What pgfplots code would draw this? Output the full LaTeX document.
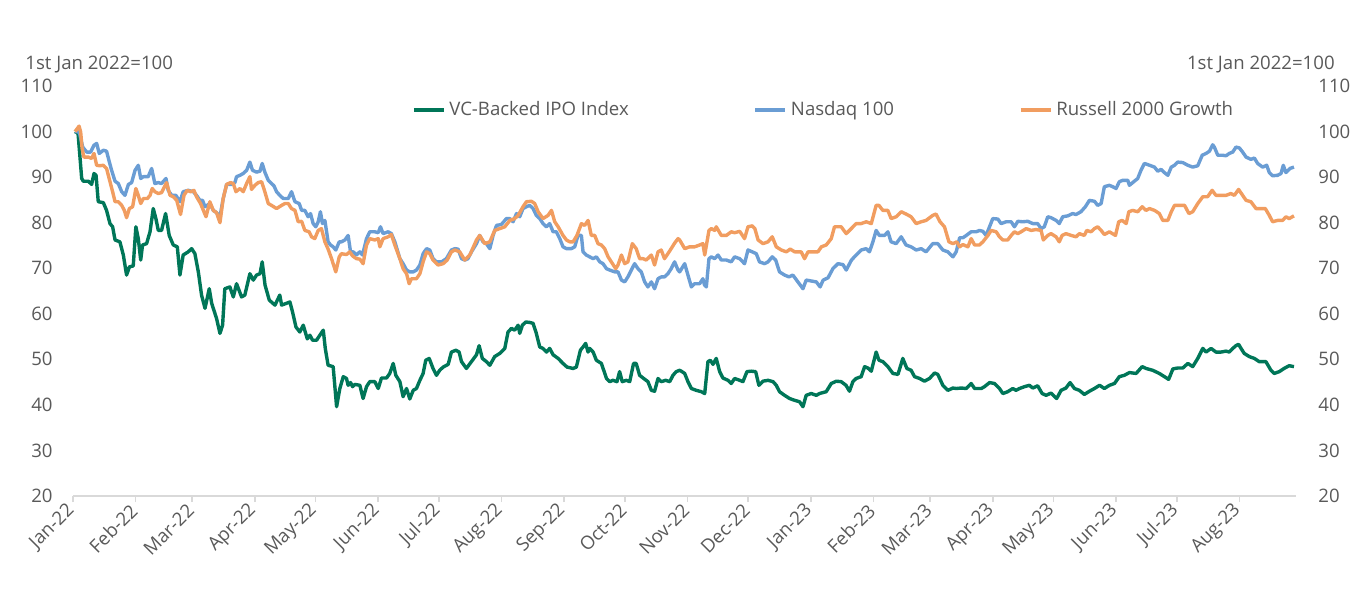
\documentclass[border=0pt]{standalone}
\usepackage{fontspec}
\setmainfont{Open Sans}
\usepackage{pgfplots}
\pgfplotsset{compat=1.18}
\definecolor{vcgreen}{RGB}{0,118,88}
\definecolor{nasblue}{RGB}{106,157,212}
\definecolor{rusorange}{RGB}{241,157,96}
\definecolor{txtgray}{RGB}{89,89,89}
\definecolor{axgray}{RGB}{217,217,217}
\newcommand{\chartfont}{\fontsize{9.3}{10}\selectfont}
\pgfplotsset{
  base/.style={
    at={(0,0)}, anchor=south west,
    width=611.5pt, height=205pt, scale only axis,
    xmin=0, xmax=605, ymin=20, ymax=110,
    ytick={20,30,...,110},
    tick label style={font=\chartfont, text=txtgray},
    /pgf/number format/assume math mode=true,
    y axis line style={draw=none},
    ytick style={draw=none},
  }
}
\begin{document}
\begin{tikzpicture}[x=1pt,y=1pt]
\path[use as bounding box] (-36.5,-50) rectangle (643.5,248);
% right-hand tick labels
\begin{axis}[base,
  axis x line=none, axis y line*=right,
  yticklabel={\makebox[0pt][l]{\pgfmathprintnumber{\tick}}},
  yticklabel style={inner sep=0pt, xshift=10.5pt},
]
\end{axis}
\begin{axis}[base,
  axis x line*=bottom, axis y line*=left,
  x axis line style={axgray, line width=0.8pt},
  xtick style={axgray, line width=0.8pt},
  tick align=outside, major tick length=3pt,
  xtick={0,31,59,90,120,151,181,212,243,273,304,334,365,396,424,455,485,516,546,577},
  xticklabels={Jan-22,Feb-22,Mar-22,Apr-22,May-22,Jun-22,Jul-22,Aug-22,Sep-22,Oct-22,Nov-22,Dec-22,Jan-23,Feb-23,Mar-23,Apr-23,May-23,Jun-23,Jul-23,Aug-23},
  xticklabel style={yshift=-2pt, rotate=45, anchor=east, inner sep=1pt},
  yticklabel style={anchor=east, inner sep=0pt, xshift=-7pt},
  legend columns=3,
  legend style={at={(0.277,0.9415)}, anchor=west, draw=none, fill=none,
    inner sep=0pt, font=\chartfont, text=txtgray,
    /tikz/every even column/.append style={column sep=60.5pt}},
  legend image code/.code={\draw[#1, line width=1.6pt] (0pt,0pt) -- (15pt,0pt);},
  every axis plot/.append style={line width=1.7pt, line join=round},
]
\addplot[vcgreen] coordinates {
(1,100) (2.5,99.6) (4.3,89.7) (5.1,89.1) (7.6,89.1) (9.2,88.4) (10.4,90.8) (11.4,90.4) (12.5,84.6) (15,84.4) (16.6,82.7) (18.3,79.8) (19.6,79.1) (20.8,76.2) (23.2,75.8) (24.9,72.9) (26.5,68.5) (27.9,70.3) (29.8,70.5) (31.1,79.1) (32.3,76.5) (33.5,71.8) (34.4,75.1) (36.4,75.4) (38.1,78) (39.7,83.1) (41,80.9) (42.2,78.3) (43.8,78.3) (45.8,82) (47.6,77.2) (49.6,75.1) (51.6,74.7) (52.9,68.5) (54.5,72.9) (57,73.6) (58.7,74.3) (60.3,73.2) (62,69.2) (63.6,64.1) (65.3,61.2) (67.4,65.5) (68.6,62.3) (71,59) (72.7,55.7) (74,57.5) (75.1,65.5) (77.6,65.9) (79.3,63.7) (80.9,66.6) (83.4,63.7) (85,64.1) (87.5,68.8) (89.2,67.4) (90.8,68.5) (92.5,68.8) (93.6,71.4) (95,66.3) (97.1,63) (99.9,61.9) (102.3,64.1) (103.2,61.9) (105.6,62.3) (107.3,62.6) (108.6,60.4) (110.3,57.1) (112.2,56) (113.9,57.5) (115.9,54.5) (117.2,55.3) (118.5,54.2) (120.5,54.2) (122.1,55.3) (123.8,56.4) (124.8,52.4) (126.2,48.7) (128.7,48.4) (130.4,39.6) (132,43.6) (133.7,46.2) (135.3,45.8) (136.1,44.3) (137.3,44.9) (138.3,44) (139.4,44.5) (141.9,44.3) (143.5,41.4) (145.2,44) (146.8,45.1) (149.3,45.1) (151,43.6)
(152.6,45.9) (155.1,45.9) (156.7,46.9) (158.4,49.1) (159.7,46.5) (161.7,45.1) (163.3,41.8) (165,43.6) (166.6,41.3) (168.3,43.2) (169.9,43.6) (171.6,45.4) (173.2,46.9) (174.5,49.8) (176.2,50.2) (178.1,48) (179.8,46.5) (181.4,47.6) (183.1,48.3) (185.6,48.9) (187.2,51.6) (189.4,52) (191,51.6) (192.2,49.5) (194.6,48) (197.1,49.5) (199.6,51) (200.9,53) (202.5,50.2) (204.5,49.5) (206.2,48.7) (208.6,50.6) (211.1,51.3) (213.6,52.4) (215.2,56) (216.9,56.8) (218.5,56.4) (220.2,57.5) (221,55.7) (222.3,57.5) (224,58.2) (225.9,58.1) (227.6,57.9) (229.2,55.7) (230.9,52.7) (232.5,52.4) (234.2,51.6) (235.8,52.4) (237.5,51) (240,50.2) (242.4,49.1) (244.4,48.3) (247.4,48) (249,48.3) (251,52) (252.3,52.7) (253.6,53.5) (254.8,51.6) (255.6,52.4) (257.3,51.6) (258.9,49.8) (261.4,49.1) (263.9,45.8) (265.5,45.1) (267.1,45.4) (269.1,45.1) (270.4,47.3) (271.7,45.1) (273.7,45.4) (275.4,45.1) (277.3,49.1) (278.6,49.1) (280.3,46.5) (282.3,45.8) (284.4,45.1) (286.1,43.2) (287.7,43) (289.4,45.8) (291,45.1) (293.2,45.4) (295.2,45.1) (296.8,46.5) (298.4,47.3) (300.1,47.6)
(300.9,47.4) (302.6,46.9) (304.2,45.1) (305.9,43.6) (308.3,43.2) (310.8,42.9) (312.5,42.5) (314.1,49.5) (315.3,49.8) (316.6,48.9) (318.2,50.2) (319.9,47.3) (321.5,45.9) (324,45.4) (325.6,44.7) (327.3,45.8) (329.8,45.4) (331.4,45.1) (333.4,47.3) (335.5,47.4) (337.7,47.3) (339.3,44.3) (341.3,45.2) (343.8,45.4) (346.3,45.1) (347.9,44.3) (349.5,42.9) (352,42.1) (354.5,41.4) (357,41) (359.4,40.7) (361.1,39.6) (362.7,42.1) (365.2,42.5) (367.7,42.1) (369.3,42.5) (372.6,42.9) (375.1,44.7) (377.6,45.2) (380,45.1) (382.4,44.3) (384.1,43) (385.8,45.1) (387.4,45.8) (389.9,46.2) (391.6,48.4) (393.2,48.1) (394.9,47.4) (397.3,51.6) (398.7,49.8) (400.6,49.5) (403.1,48.4) (405.6,46.9) (408.1,46.7) (410.5,50.2) (412.5,48) (414.6,47.6) (416.3,46.2) (418.8,45.8) (421.2,45.2) (423.7,45.8) (426.2,47) (427.8,46.7) (430.3,44.3) (432.8,43.2) (435.3,43.7) (436.9,43.6) (439.4,43.7) (441.9,43.6) (444.3,44.7) (446,43.6) (449.3,43.6)
(450.9,44) (453.4,44.9) (455.8,44.7) (458.3,43.6) (460,42.5) (462.4,42.9) (464.9,43.6) (466.5,43.2) (468.2,43.6) (470.7,44) (473.1,44.3) (474.8,43.7) (477.2,44.2) (479.4,42.5) (481.4,42.1) (483.8,42.6) (486.6,41.4) (488.8,43.2) (491.2,43.7) (493.2,44.9) (495.4,43.6) (497.8,43.2) (500.3,42.3) (502.8,43) (505.3,43.6) (507.8,44.3) (510.2,43.6) (512.7,44.3) (515.2,44.7) (517.6,46.2) (520.1,46.5) (522.6,47.1) (525.9,46.9) (528.9,48.4) (530.8,48) (534.1,47.6) (537.4,46.9) (539.9,46.2) (542,45.6) (544.1,47.9) (546.5,48.1) (549,48.1) (551.5,49.1) (553.9,48.4) (556.4,50.2) (558.9,52.4) (560.5,51.6) (563,52.4) (565.4,51.6) (567.9,51.6) (570.4,51.8) (572,51.6) (573.7,52.4) (575.3,53) (576.6,53.3) (577.8,52.4) (579.4,51.3) (581.9,50.6) (584.4,50.2) (586.8,49.5) (590.1,49.5) (592.6,47.6) (594.2,46.9) (596.7,47.3) (599.1,48) (601.6,48.6) (604,48.4)
};
\addlegendentry{VC-Backed IPO Index}
\addplot[nasblue] coordinates {
(1,100) (3.1,99.9) (4.8,96.6) (6.8,95.5) (8.7,95.5) (10.4,97) (11.7,97.4) (13,95.2) (15,95.9) (16.6,95.7) (18,93.3) (19.1,91.5) (20.8,89.1) (22.4,88.6) (24.1,86.8) (25.7,86) (27.4,88.4) (29,88.8) (30.7,91.5) (32.3,92.6) (33.5,89.7) (34.8,90.1) (37.2,90.1) (38.9,91.9) (40.5,88.6) (42.2,88.8) (43.8,88.6) (46,89.7) (47.1,87.1) (48.8,86) (50.9,86) (52.9,84.6) (54.5,86.8) (57,87.1) (59.5,86.8) (61.1,86) (62.8,84.9) (64.1,84.9) (65.3,83.5) (67.7,84.2) (69.4,82.7) (71,82.2) (72.7,81.3) (74.3,85.3) (76,88.4) (78.4,88.4) (80.1,88.8) (80.9,90.1) (82.6,90.4) (84.2,90.8) (85.9,91.5) (87.5,93.3) (88.8,91.5) (90.8,91.1) (92.5,91.3) (93.6,93) (94.9,91.1) (96.6,89.3) (98.2,88.6) (99.4,88.1) (100.7,86.8) (102.3,86) (104,85.3) (106.5,85.3) (108.1,86.8) (109.8,84.6) (111.9,84.2) (113.1,82.7) (114.7,82.7) (116.3,81.3) (117.5,82) (118.8,79.8) (120.1,79.1) (121.3,80.2) (122.4,82.4) (123.4,79.8) (124.6,80.5) (126.2,75.8) (127.4,75.1) (128.7,74.7) (130,74) (131.7,75.8) (132.8,75.8) (134.5,76.2) (136.1,77.2) (137.3,73.6) (138.6,73.6) (140.2,72.9) (141.9,73.6) (143.2,72.9) (145.2,76.5) (146.8,78) (149.3,78) (151,77.8)
(152.1,79.1) (153.4,77.6) (155.9,78) (157.5,77.6) (159.2,75.8) (161.7,72.1) (163.3,71) (165,69.6) (166.6,69.2) (168.3,69.2) (169.9,69.6) (171.6,70.7) (173.2,73.2) (174.9,74.3) (176.5,74) (178.1,72.1) (179.8,71.4) (182.3,71.4) (184.7,72.1) (187.2,74) (188.9,74.3) (190.5,74.2) (192.2,72.1) (193.8,71.8) (195.4,72.1) (197.1,73.6) (199.6,75.4) (201.2,77.2) (202.8,75.8) (204.5,75.4) (206.2,74.3) (207.8,77.2) (209.5,79.4) (211.9,79.6) (214.4,80.9) (216.1,80.9) (217.7,80.2) (219.4,82) (221,81.3) (222.6,83.1) (224.3,83.5) (225.9,83.8) (227.6,83.1) (229.2,81.6) (230.9,80.9) (232.5,79.8) (234.2,79.1) (235.8,79.8) (237.5,78) (239.1,78) (240.8,76.5) (242.4,74.7) (244.1,74.3) (246.5,74.3) (248.2,74.7) (249.8,77.2) (251.5,77.2) (252.3,73.6) (253.9,72.9) (255.6,72.5) (257.3,72.1) (258.9,72.5) (260.6,71.4) (262.2,71) (263.9,69.9) (265.5,69.6) (268,69.2) (269.6,69.2) (271.3,67.4) (272.9,67) (274.5,68.1) (276.2,69.6) (277.8,71) (279.5,69.9) (281.1,69.2) (282.8,67) (284.4,65.9) (286.1,67) (287.7,65.5) (289.4,67.7) (291,68.1) (292.6,68.1) (294.3,68.8) (295.9,69.9) (297.6,71.4) (299.3,69.6) (300.1,69.2)
(302.6,71) (304.2,68.5) (305.9,65.9) (307.5,66.6) (310,66.6) (311.6,67.7) (312.4,66.3) (313.3,65.9) (314.6,72.1) (315.8,72.5) (317.4,72.1) (319.1,72.9) (320.7,71.8) (323.2,71.8) (325.6,71.4) (327.3,72.5) (329.8,72.1) (332.2,71) (333.9,74) (336,73.6) (338,73.2) (339.6,71.4) (342.1,71) (343.8,71.4) (345.9,72.5) (347.6,71.8) (349.5,69.2) (352,68.5) (354.2,68.1) (356.1,68.5) (358.6,67) (361.1,65.5) (362.7,67.4) (365.2,67.2) (367.7,67) (369.6,65.9) (371.1,67.4) (373.5,67.9) (375.9,69.9) (378.4,71) (380.9,70.8) (382.5,69.6) (385.1,71.8) (387.4,72.9) (389.9,74) (392.4,74.3) (394,73.6) (395.7,75.8) (397.3,78.3) (398.9,77.2) (401.5,77.2) (403.1,78) (404.7,75.8) (407.2,75.4) (409.7,76.9) (412.1,75.1) (414.6,74.7) (417.1,74) (419.6,74.3) (422,73.6) (425.3,75.4) (427.8,75.4) (430.3,74) (432.8,73.6) (435.3,72.5) (436.9,73.6) (438.6,76.7) (440.2,76.7) (441.9,77.2) (444.3,78) (446.8,78)
(448.4,78.3) (450.1,78.1) (451.7,77.2) (453.4,79.1) (455,80.9) (457.5,80.8) (459.1,79.8) (461.6,80.2) (464.1,80.2) (465.7,79.1) (467.4,80.3) (469.8,80.2) (472.3,80.3) (474.8,79.8) (477.2,79.8) (478.9,78.7) (480.5,79.1) (482.2,81.3) (483.8,81.1) (486.3,80.5) (487.9,79.8) (489.6,81.3) (492.1,81.5) (494.5,82) (496.2,81.8) (498.6,82.4) (500.8,83.5) (502.8,84.9) (505.3,84.7) (506.9,83.8) (508.6,84.2) (510.2,87.9) (512.7,88.2) (514.3,87.9) (516,87.5) (517.6,89) (519.3,89.3) (521.8,89.3) (522.6,88.2) (524.2,88.8) (526.7,89.7) (528.3,91.5) (530,93) (532.6,92.6) (535,92.2) (536.6,91.3) (538.3,91.7) (539.9,91) (541.6,90.4) (543.3,92.2) (544.9,92.6) (546.5,93.3) (549,93.2) (551.5,92.6) (553.9,92.2) (556.4,92.5) (558.6,94.8) (560.5,95.2) (562.2,95.7) (563.8,97.1) (564.6,96.6) (566.3,94.8) (568.7,94.8) (570.4,94.7) (572,95.2) (573.7,95.5) (575.3,96.6) (577,96.4) (578.6,95.5) (580.3,94.4) (582.7,93.9) (584.4,94.2) (586,93) (588.5,92.2) (590.5,92.6) (591.8,91) (593.4,90.3) (595.9,90.4) (597.6,90.8) (598.7,92.6) (600,91) (602,91.9) (604,92.2)
};
\addlegendentry{Nasdaq 100}
\addplot[rusorange] coordinates {
(1,100) (2.2,100.7) (3,101.2) (3.8,99.9) (4.5,96.3) (5.4,94.4) (7.6,94.4) (9.2,94.1) (10.4,95.2) (11.7,92.6) (13.3,92.5) (15,92.6) (16.6,91.9) (18.3,89) (19.6,86.8) (20.8,84.6) (22.4,84.6) (24.1,83.8) (25.4,82.7) (26.5,81.1) (27.9,83.1) (29.5,83.5) (31.1,87.5) (32.3,86) (33.5,84.2) (34.8,85.3) (36.8,85.3) (38.1,86) (39.2,87.5) (40.5,86.8) (42.2,86.4) (43.8,86.6) (46.3,88.8) (48,86) (49.6,85.7) (51.3,84.9) (53.2,81.8) (54.9,86) (56.5,87.1) (58.2,86.8) (59.8,87.1) (61.1,85.7) (63.1,84.2) (65.8,81.3) (67.7,84.6) (69.4,82.7) (71,82.2) (72.7,80) (74.3,85.3) (76,88.4) (77.9,88.8) (79.3,88.6) (80.6,86.8) (82.6,87.5) (84.2,86.8) (85.9,88.6) (87.5,90.1) (88.3,87.3) (90,88.2) (91.6,88.8) (93.3,89) (94.9,86.8) (96.6,84.2) (98.2,83.8) (100.7,83.1) (103.2,83.8) (104.8,84.2) (106.5,84.2) (108.1,83.1) (109.8,82.7) (111.4,80.2) (113.1,80.3) (114.7,78.3) (116.8,78) (118,76.9) (119.6,76.5) (121.3,78.3) (122.9,78.7) (124.6,75.8) (126.2,74.2) (127.9,72.1) (130,69.2) (131.7,72.5) (132.8,73.2) (135.3,73) (136.9,73.6) (138.3,72.7) (140.2,72.1) (141.9,72) (143.5,71) (145.2,75.1) (146.8,76.5) (149.3,76.2) (151,76.5)
(151.8,74.7) (153.4,76.5) (155.9,76.9) (157.5,77.4) (159.2,75.1) (161.7,72.1) (163.3,69.9) (165,68.8) (166.3,66.6) (167.4,67.7) (169.9,67.7) (171.6,68.8) (173.2,71.4) (174.9,73.6) (176.5,73.2) (178.1,71.8) (180.6,70.7) (183.1,71) (185.1,71.8) (187.2,73.6) (188.9,74) (191.3,73.6) (193.8,71.8) (196.3,72.9) (199.6,76.2) (201.2,77.2) (203.7,75.4) (206.2,75.8) (208.6,78.3) (211.1,78.7) (213.6,79.1) (216.1,80.5) (218.5,80.9) (220.2,81.6) (222.6,83.5) (224.3,84.6) (226.8,84.7) (228.4,84.2) (230.1,82.4) (232.5,80.9) (235,81.6) (236.7,82.7) (238.3,80.2) (240,79.1) (242.4,77.2) (244.1,76.2) (245.7,75.8) (247.4,75.8) (249.3,77.2) (251.5,79.8) (253.1,79.4) (254.8,80.5) (256.4,77.2) (258.1,77.2) (259.7,75.4) (261.4,75.1) (263,74.3) (264.7,72.5) (266.3,71.4) (268.5,69.9) (269.6,70.7) (271.3,72.9) (272.9,71) (274.5,71.4) (276.7,75.4) (278.6,74.3) (280.3,72.1) (282,72.1) (283.6,71.8) (286.1,72.9) (287.7,70.7) (289.4,73.6) (291,74) (292.6,72.1) (294.3,73.2) (295.9,74.3) (297.6,75.5) (299.3,76.5) (300.1,76.2)
(302.6,74.3) (305,74.7) (307.5,74.7) (310,75.1) (311.6,75.4) (312.5,72.9) (314.6,78.3) (315.8,78.7) (317.4,78.3) (318.2,79.1) (320.7,77.2) (323.2,77.2) (325.6,78) (327.3,77.8) (329.8,78.1) (332.2,76.5) (333.9,79.1) (336,79.3) (337.3,78.7) (338.9,76.2) (341.3,75.4) (343.8,75.8) (345.9,76.9) (347.9,74.7) (350.4,74) (352.9,73.6) (354.8,74.2) (357,73.6) (360.2,73.6) (361.9,72.1) (363.6,73.6) (366,73.6) (368.5,73.6) (370.2,74.7) (372.6,75.1) (375.1,76.5) (376.7,79.1) (380,79.1) (382.5,77.6) (385,78.7) (387.4,79.8) (389.9,79.8) (392.4,80.2) (394.9,79.8) (397.3,83.8) (398.7,83.8) (400.6,82.7) (403.1,82.7) (404.7,80.9) (407.2,81.3) (409.7,82.4) (412.1,81.9) (414.6,81.3) (417.1,79.8) (419.6,80.2) (422,80.5) (425.3,81.6) (426.9,81.9) (428.9,80.2) (431.1,79.1) (433.3,75.8) (435.3,75.4) (437.2,75.8) (438.6,74.7) (440.2,75.2) (442.7,74.7) (444.3,76.5) (446,75.1)
(448.4,75.1) (450.1,75.8) (452.6,77.2) (454.2,78.3) (456.7,78) (458.3,76.9) (460,76.2) (462.4,76.2) (464.1,77.2) (465.7,78) (467.4,77.6) (469,78) (471.5,78.7) (474,78.3) (476.4,78.5) (478.9,78.3) (480,76.2) (482.2,77.2) (483.8,77.6) (486.3,76.9) (487.9,75.8) (489.3,77.2) (491.2,77.6) (493.8,77.2) (496.2,76.9) (497.8,77.6) (500.3,77.2) (501.5,78.3) (503.6,78) (505.3,78.7) (506.9,79.1) (508.6,78.3) (510.2,77.4) (512.7,78) (515.7,77.2) (517.3,80.2) (519,80.5) (521,79.8) (522.3,82.4) (524.2,82.7) (526.7,82.4) (528.9,83.5) (530.8,82.7) (532.5,83.1) (535,82.7) (537.4,82) (539.1,80.5) (541.6,80.5) (543.3,82.4) (544.9,83.8) (547.4,83.8) (549.9,83.8) (552,82) (553.9,82.4) (556.4,84.2) (558.9,85.7) (561.3,85.7) (563.5,87.1) (565.4,86) (567.9,86) (570.4,86) (572.8,86.4) (574.5,86) (576.6,87.3) (578.6,86) (580.3,84.9) (582.7,84.6) (585.2,83.1) (587.7,83.1) (589.8,83.1) (591.8,81.6) (593.4,80.2) (595.9,80.5) (598.4,80.5) (600,81.3) (601.6,80.9) (604,81.5)
};
\addlegendentry{Russell 2000 Growth}
\end{axis}
\node[anchor=base west, inner sep=0pt, text=txtgray, font=\chartfont] at (-24,213) {1st Jan 2022=100};
\node[anchor=base east, inner sep=0pt, text=txtgray, font=\chartfont] at (631,213) {1st Jan 2022=100};
\end{tikzpicture}
\end{document}
